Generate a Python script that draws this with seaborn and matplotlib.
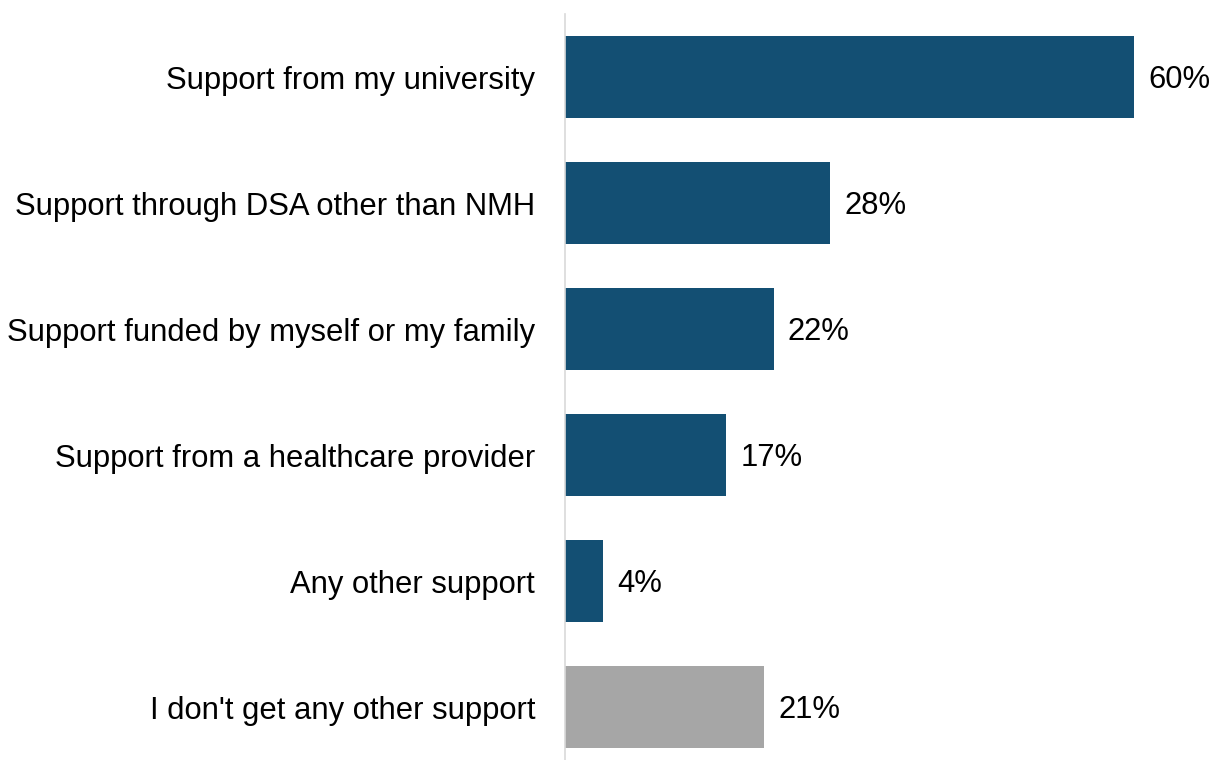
import matplotlib
matplotlib.use("Agg")
import matplotlib.pyplot as plt
import seaborn as sns
import pandas as pd

categories = [
    "Support from my university",
    "Support through DSA other than NMH",
    "Support funded by myself or my family",
    "Support from a healthcare provider",
    "Any other support",
    "I don't get any other support",
]
values = [60, 28, 22, 17, 4, 21]
labels = ["60%", "28%", "22%", "17%", "4%", "21%"]
colors = ["#134F73", "#134F73", "#134F73", "#134F73", "#134F73", "#A6A6A6"]

sns.set_theme(style="white")
plt.rcParams["font.family"] = ["Liberation Sans", "DejaVu Sans"]

df = pd.DataFrame({"cat": categories, "val": values})

fig = plt.figure(figsize=(12.15, 7.6), dpi=100)
ax = fig.add_axes([565 / 1215, 0, (1215 - 565) / 1215, 746 / 760])

sns.barplot(data=df, x="val", y="cat", hue="cat", palette=colors, legend=False,
            width=0.65, ax=ax, orient="h", saturation=1, linewidth=0)

for i, (v, t) in enumerate(zip(values, labels)):
    ax.text(v + 1.5, i + 0.02, t, va="center", ha="left", fontsize=22.3, color="#000000")

ax.set_xlim(0, (1215 - 565) / 9.48)
ax.set_ylim(5.42, -0.5)
ax.set_xlabel("")
ax.set_ylabel("")
ax.set_xticks([])
ax.tick_params(axis="y", length=0, pad=21.5, labelsize=22.3, labelcolor="#000000")
for s in ["top", "right", "bottom"]:
    ax.spines[s].set_visible(False)
ax.spines["left"].set_color("#D9D9D9")
ax.spines["left"].set_linewidth(1.2)

fig.savefig("out.png", dpi=100)
